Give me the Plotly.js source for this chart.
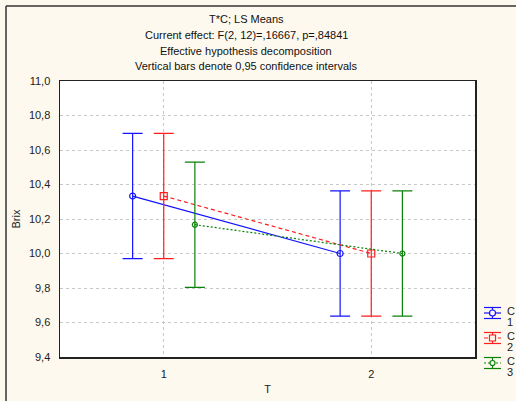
<!DOCTYPE html>
<html>
<head>
<meta charset="utf-8">
<script src="https://cdn.plot.ly/plotly-3.0.1.min.js"></script>
<style>html,body{margin:0;padding:0;background:#FEF9EE;}#chart{width:516px;height:401px;}</style>
</head>
<body>
<div id="chart"></div>
<script>
// ---- data ----
const levelsT = [1, 2];
const seriesNames = ['1', '2', '3'];          // levels of factor C
const factorName = 'C';
const meanC1 = [10.333, 10.000];
const meanC2 = [10.333, 10.000];
const meanC3 = [10.167, 10.000];
const ciC1 = [0.363, 0.363];
const ciC2 = [0.363, 0.363];
const ciC3 = [0.363, 0.363];
const yTicks = [9.4, 9.6, 9.8, 10.0, 10.2, 10.4, 10.6, 10.8, 11.0];
const titleLines = [
  'T*C; LS Means',
  'Current effect: F(2, 12)=,16667, p=,84841',
  'Effective hypothesis decomposition',
  'Vertical bars denote 0,95 confidence intervals'
];

// ---- styling ----
const W = 516, H = 401;
const M = {l: 60, r: 41, t: 81, b: 44};
const PW = W - M.l - M.r, PH = H - M.t - M.b;
const px = x => (x - M.l) / PW;
const py = y => (H - M.b - y) / PH;

const means = [meanC1, meanC2, meanC3];
const cis = [ciC1, ciC2, ciC3];
const colors = ['rgb(20,20,255)', 'rgb(255,30,30)', 'rgb(10,130,10)'];
const dashes = ['solid', '4px,3px', '2px,2px'];
const symbols = ['circle-open', 'square-open', 'circle-open'];
const msizes = [6, 7, 5];
const offsets = [-0.15, 0, 0.15];

const traces = means.map((m, i) => ({
  type: 'scatter',
  mode: 'lines+markers',
  x: levelsT.map(t => t + offsets[i]),
  y: m,
  name: factorName + ' ' + seriesNames[i],
  line: {color: colors[i], width: 1.2, dash: dashes[i]},
  marker: {symbol: symbols[i], size: msizes[i], color: colors[i], line: {width: 1.2, color: colors[i]}},
  error_y: {type: 'data', array: cis[i], visible: true, color: colors[i], thickness: 1.2, width: 10},
  showlegend: false,
  hoverinfo: 'x+y'
}));

const fontFam = 'Arial, "Liberation Sans", sans-serif';
const annotations = titleLines.map((t, i) => ({
  text: t, xref: 'paper', yref: 'paper',
  x: px(246), y: py([19, 35, 51, 66][i]),
  xanchor: 'center', yanchor: 'middle', showarrow: false,
  font: {family: fontFam, size: 11, color: '#111'}
}));

const shapes = [
  // outer frame (left and top)
  {type: 'line', xref: 'paper', yref: 'paper', x0: px(6), x1: px(6), y0: py(6), y1: py(402), line: {color: '#333', width: 1.5}},
  {type: 'line', xref: 'paper', yref: 'paper', x0: px(6), x1: px(517), y0: py(6), y1: py(6), line: {color: '#333', width: 1.5}}
];

// manual legend
seriesNames.forEach((nm, i) => {
  const c = 313 + 25 * i;
  const x0 = 484, x1 = 501, xm = 492.5;
  const col = colors[i];
  const L = (a, b, d, e, dash) => shapes.push({type: 'line', xref: 'paper', yref: 'paper',
    x0: px(a), x1: px(b), y0: py(d), y1: py(e), line: {color: col, width: 1.2, dash: dash || 'solid'}});
  L(x0, x1, c - 5.5, c - 5.5);
  L(x0, x1, c + 5.5, c + 5.5);
  L(xm, xm, c - 5.5, c + 5.5);
  L(x0, x1, c, c, dashes[i]);
  const r = i === 2 ? 2.5 : 3;
  shapes.push({type: symbols[i].startsWith('square') ? 'rect' : 'circle', xref: 'paper', yref: 'paper',
    x0: px(xm - r), x1: px(xm + r), y0: py(c - r), y1: py(c + r),
    fillcolor: '#FEF9EE', line: {color: col, width: 1.2}});
  annotations.push({text: factorName, xref: 'paper', yref: 'paper', x: px(505), y: py(c - 2),
    xanchor: 'left', yanchor: 'middle', showarrow: false, font: {family: fontFam, size: 11, color: '#222'}});
  annotations.push({text: nm, xref: 'paper', yref: 'paper', x: px(505), y: py(c + 9),
    xanchor: 'left', yanchor: 'middle', showarrow: false, font: {family: fontFam, size: 11, color: '#222'}});
});

const layout = {
  width: W, height: H,
  margin: M,
  paper_bgcolor: '#FEF9EE',
  plot_bgcolor: '#FFFFFF',
  separators: ',.',
  font: {family: fontFam, size: 11, color: '#222'},
  showlegend: false,
  xaxis: {
    range: [0.5, 2.5], tickvals: levelsT, ticktext: levelsT.map(String),
    showgrid: true, gridcolor: 'rgb(200,200,200)', griddash: 'dot', gridwidth: 1,
    zeroline: false, showline: true, linecolor: '#222', linewidth: 1.5, mirror: true,
    ticks: '', ticklabelstandoff: 6,
    title: {text: 'T', font: {family: fontFam, size: 11, color: '#222'}, standoff: 6},
    automargin: false
  },
  yaxis: {
    range: [9.4, 11.0], tickvals: yTicks, tickformat: '.1f',
    showgrid: true, gridcolor: 'rgb(200,200,200)', griddash: 'dot', gridwidth: 1,
    zeroline: false, showline: true, linecolor: '#222', linewidth: 1.5, mirror: true,
    ticks: '', ticklabelstandoff: 6,
    title: {text: 'Brix', font: {family: fontFam, size: 11, color: '#222'}, standoff: 6},
    automargin: false
  },
  annotations: annotations,
  shapes: shapes
};

Plotly.newPlot('chart', traces, layout, {displayModeBar: false, staticPlot: true});
</script>
</body>
</html>
